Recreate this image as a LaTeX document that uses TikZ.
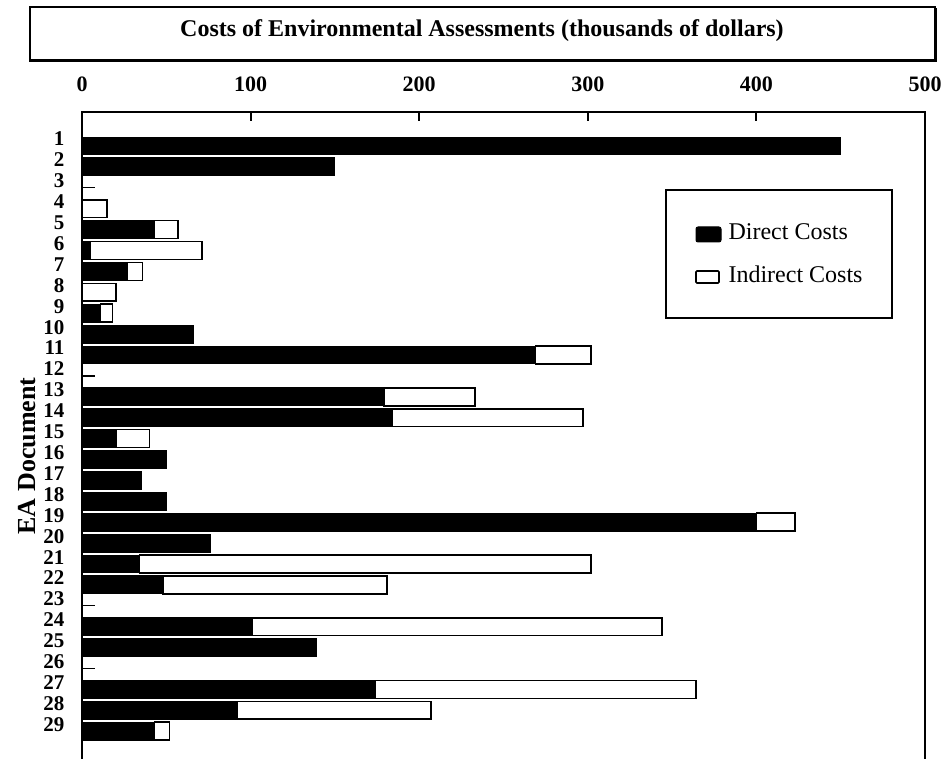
\documentclass[tikz,border=0pt]{standalone}
\usepackage{fontspec}
\setmainfont{Liberation Serif}

\begin{document}
\begin{tikzpicture}[x=1pt, y=-1pt,
        direct/.style={fill=black, draw=black, line width=1pt},
        indirect/.style={fill=white, draw=black, line width=1.6pt},
        zerobar/.style={line width=1.2pt},
        frame/.style={line width=2pt},
        ticklab/.style={font=\fontsize{22}{22}\selectfont\bfseries, anchor=base},
        rowlab/.style={font=\fontsize{21}{21}\selectfont\bfseries, anchor=base east},
        legtext/.style={font=\fontsize{24}{24}\selectfont, anchor=base west}]
                \useasboundingbox (0, 0) rectangle (948, 759);
                % title box
                \draw [frame] (30, 7) rectangle (935, 61);
                \draw [line width=3pt] (31, 61) -- (935, 61) -- (935, 8);
                \node [font=\fontsize{24}{24}\selectfont\bfseries, anchor=base] (title) at (482, 37) {Costs of Environmental Assessments (thousands of dollars)};
                % value axis
                \node [ticklab] (t0) at (82, 92) {0};
                \node [ticklab] (t100) at (250.6, 92) {100};
                \node [ticklab] (t200) at (419.2, 92) {200};
                \node [ticklab] (t300) at (587.8, 92) {300};
                \node [ticklab] (t400) at (756.4, 92) {400};
                \node [ticklab] (t500) at (925, 92) {500};
                \draw [frame] (82, 759) -- (82, 112) -- (925, 112) -- (925, 759);
                \draw [frame] (250.6, 112) -- (250.6, 121);
                \draw [frame] (419.2, 112) -- (419.2, 121);
                \draw [frame] (587.8, 112) -- (587.8, 121);
                \draw [frame] (756.4, 112) -- (756.4, 121);
                \node [font=\fontsize{26}{26}\selectfont\bfseries, anchor=base, rotate=90] (ylab) at (35, 456) {EA Document};
                % bars, one row per document
                \begin{scope}[shift={(82pt, -125.1pt)}, x=1.686pt, y=-20.9pt]
                \node [rowlab] (r1) at (-8.3, 1) {1};
                \node [rowlab] (r2) at (-8.3, 2) {2};
                \node [rowlab] (r3) at (-8.3, 3) {3};
                \node [rowlab] (r4) at (-8.3, 4) {4};
                \node [rowlab] (r5) at (-8.3, 5) {5};
                \node [rowlab] (r6) at (-8.3, 6) {6};
                \node [rowlab] (r7) at (-8.3, 7) {7};
                \node [rowlab] (r8) at (-8.3, 8) {8};
                \node [rowlab] (r9) at (-8.3, 9) {9};
                \node [rowlab] (r10) at (-8.3, 10) {10};
                \node [rowlab] (r11) at (-8.3, 11) {11};
                \node [rowlab] (r12) at (-8.3, 12) {12};
                \node [rowlab] (r13) at (-8.3, 13) {13};
                \node [rowlab] (r14) at (-8.3, 14) {14};
                \node [rowlab] (r15) at (-8.3, 15) {15};
                \node [rowlab] (r16) at (-8.3, 16) {16};
                \node [rowlab] (r17) at (-8.3, 17) {17};
                \node [rowlab] (r18) at (-8.3, 18) {18};
                \node [rowlab] (r19) at (-8.3, 19) {19};
                \node [rowlab] (r20) at (-8.3, 20) {20};
                \node [rowlab] (r21) at (-8.3, 21) {21};
                \node [rowlab] (r22) at (-8.3, 22) {22};
                \node [rowlab] (r23) at (-8.3, 23) {23};
                \node [rowlab] (r24) at (-8.3, 24) {24};
                \node [rowlab] (r25) at (-8.3, 25) {25};
                \node [rowlab] (r26) at (-8.3, 26) {26};
                \node [rowlab] (r27) at (-8.3, 27) {27};
                \node [rowlab] (r28) at (-8.3, 28) {28};
                \node [rowlab] (r29) at (-8.3, 29) {29};
                \filldraw [direct] (0, 0.57) rectangle (450, 1.43);
                \filldraw [direct] (0, 1.57) rectangle (150, 2.43);
                \draw [zerobar] (0, 3) -- (7.7, 3);
                \draw [indirect] (0, 3.57) rectangle (15, 4.43);
                \filldraw [direct] (0, 4.57) rectangle (43, 5.43);
                \draw [indirect] (43, 4.57) rectangle (57, 5.43);
                \filldraw [direct] (0, 5.57) rectangle (5, 6.43);
                \draw [indirect] (5, 5.57) rectangle (71, 6.43);
                \filldraw [direct] (0, 6.57) rectangle (27, 7.43);
                \draw [indirect] (27, 6.57) rectangle (36, 7.43);
                \draw [indirect] (0, 7.57) rectangle (20, 8.43);
                \filldraw [direct] (0, 8.57) rectangle (11, 9.43);
                \draw [indirect] (11, 8.57) rectangle (18, 9.43);
                \filldraw [direct] (0, 9.57) rectangle (66, 10.43);
                \filldraw [direct] (0, 10.57) rectangle (269, 11.43);
                \draw [indirect] (269, 10.57) rectangle (302, 11.43);
                \draw [zerobar] (0, 12) -- (7.7, 12);
                \filldraw [direct] (0, 12.57) rectangle (179, 13.43);
                \draw [indirect] (179, 12.57) rectangle (233, 13.43);
                \filldraw [direct] (0, 13.57) rectangle (184, 14.43);
                \draw [indirect] (184, 13.57) rectangle (297, 14.43);
                \filldraw [direct] (0, 14.57) rectangle (20, 15.43);
                \draw [indirect] (20, 14.57) rectangle (40, 15.43);
                \filldraw [direct] (0, 15.57) rectangle (50, 16.43);
                \filldraw [direct] (0, 16.57) rectangle (35, 17.43);
                \filldraw [direct] (0, 17.57) rectangle (50, 18.43);
                \filldraw [direct] (0, 18.57) rectangle (400, 19.43);
                \draw [indirect] (400, 18.57) rectangle (423, 19.43);
                \filldraw [direct] (0, 19.57) rectangle (76, 20.43);
                \filldraw [direct] (0, 20.57) rectangle (34, 21.43);
                \draw [indirect] (34, 20.57) rectangle (302, 21.43);
                \filldraw [direct] (0, 21.57) rectangle (48, 22.43);
                \draw [indirect] (48, 21.57) rectangle (181, 22.43);
                \draw [zerobar] (0, 23) -- (7.7, 23);
                \filldraw [direct] (0, 23.57) rectangle (101, 24.43);
                \draw [indirect] (101, 23.57) rectangle (344, 24.43);
                \filldraw [direct] (0, 24.57) rectangle (139, 25.43);
                \draw [zerobar] (0, 26) -- (7.7, 26);
                \filldraw [direct] (0, 26.57) rectangle (174, 27.43);
                \draw [indirect] (174, 26.57) rectangle (364, 27.43);
                \filldraw [direct] (0, 27.57) rectangle (92, 28.43);
                \draw [indirect] (92, 27.57) rectangle (207, 28.43);
                \filldraw [direct] (0, 28.57) rectangle (43, 29.43);
                \draw [indirect] (43, 28.57) rectangle (52, 29.43);
                \end{scope}
                % legend
                \draw [frame] (666, 190) rectangle (892, 318);
                \filldraw [direct, rounded corners=2pt] (696, 227) rectangle (721, 242);
                \node [legtext] (legD) at (725, 240) {Direct Costs};
                \draw [indirect, rounded corners=1pt] (696, 271) rectangle (719, 283);
                \node [legtext] (legI) at (725, 283) {Indirect Costs};
            \end{tikzpicture}
\end{document}
